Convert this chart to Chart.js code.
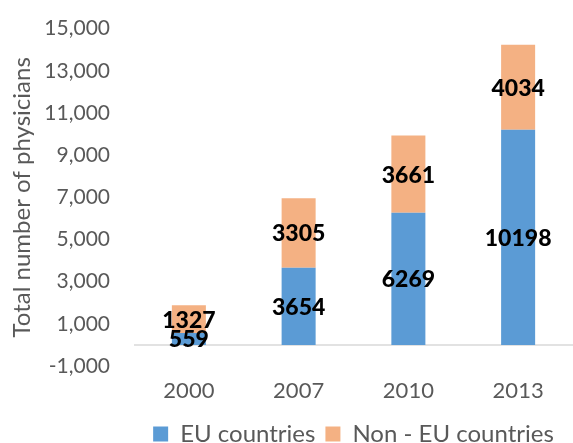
<!DOCTYPE html>
<html>
<head>
<meta charset="utf-8">
<script src="https://cdn.jsdelivr.net/npm/chart.js@4"></script>
<style>
  body { margin: 0; background: #fff; }
  #wrap { width: 573px; height: 443px; }
</style>
</head>
<body>
<div id="wrap"><canvas id="chart"></canvas></div>
<script>
const years = ['2000', '2007', '2010', '2013'];
const euValues = [559, 3654, 6269, 10198];
const nonEuValues = [1327, 3305, 3661, 4034];
const seriesNames = ['EU countries', 'Non - EU countries'];

const fontName = "Lato, 'Open Sans', sans-serif";

// draws the value in the middle of every bar segment
const valueLabels = {
    id: 'valueLabels',
    afterDatasetsDraw(chart) {
        const ctx = chart.ctx;
        ctx.save();
        ctx.font = '900 23px ' + fontName;
        ctx.fillStyle = '#000';
        ctx.textAlign = 'center';
        ctx.textBaseline = 'middle';
        chart.data.datasets.forEach((ds, i) => {
            chart.getDatasetMeta(i).data.forEach((bar, j) => {
                const mid = (bar.y + bar.base) / 2;
                ctx.fillText(ds.data[j], bar.x, mid + 1);
            });
        });
        ctx.restore();
    }
};

// zero line only
const zeroLine = {
    id: 'zeroLine',
    beforeDatasetsDraw(chart) {
        const y = chart.scales.y.getPixelForValue(0);
        const area = chart.chartArea;
        const ctx = chart.ctx;
        ctx.save();
        ctx.strokeStyle = '#d9d9d9';
        ctx.lineWidth = 1.5;
        ctx.beginPath();
        ctx.moveTo(area.left, y);
        ctx.lineTo(area.right, y);
        ctx.stroke();
        ctx.restore();
    }
};

// push the legend down a bit, closer to the bottom edge
const legendShift = {
    id: 'legendShift',
    afterLayout(chart) {
        chart.legend.top += 13;
        chart.legend.bottom += 13;
    }
};

new Chart(document.getElementById('chart'), {
    type: 'bar',
    data: {
        labels: years,
        datasets: [
            { label: seriesNames[0], data: euValues, backgroundColor: '#5B9BD5' },
            { label: seriesNames[1], data: nonEuValues, backgroundColor: '#F4B183' }
        ]
    },
    options: {
        responsive: true,
        maintainAspectRatio: false,
        animation: false,
        layout: { padding: { top: 22, right: -5, left: 8, bottom: 0 } },
        datasets: { bar: { categoryPercentage: 1, barPercentage: 0.31 } },
        scales: {
            x: {
                stacked: true,
                grid: { display: false },
                border: { display: false },
                ticks: { color: '#595959', font: { size: 22, family: fontName }, padding: 4 },
                afterFit: s => { s.height = 33; }
            },
            y: {
                stacked: true,
                min: -1000,
                max: 15000,
                grid: { display: false },
                border: { display: false },
                afterFit: s => { s.width = 126; },
                ticks: {
                    stepSize: 2000,
                    color: '#595959',
                    font: { size: 21, family: fontName },
                    padding: 16,
                    callback: v => v.toLocaleString('en-US')
                },
                title: {
                    display: true,
                    text: 'Total number of physicians',
                    color: '#595959',
                    font: { size: 24, family: fontName },
                    padding: 0
                }
            }
        },
        plugins: {
            legend: {
                position: 'bottom',
                fullSize: false,
                labels: {
                    color: '#595959',
                    font: { size: 24, family: fontName },
                    boxWidth: 15,
                    boxHeight: 15,
                    padding: 10
                }
            },
            tooltip: { enabled: false }
        }
    },
    plugins: [zeroLine, valueLabels, legendShift]
});
</script>
</body>
</html>
